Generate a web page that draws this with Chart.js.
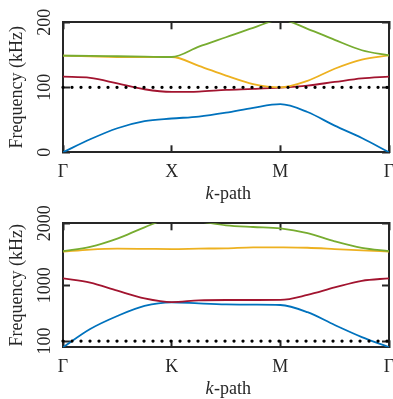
<!DOCTYPE html>
<html>
<head>
<meta charset="utf-8">
<script src="https://cdn.jsdelivr.net/npm/chart.js@4/dist/chart.umd.min.js"></script>
<style>
  html, body { margin: 0; padding: 0; background: #ffffff; }
  body { width: 393px; height: 399px; position: relative; overflow: hidden; }
  canvas { position: absolute; left: 0; }
</style>
</head>
<body>
<canvas id="top" width="393" height="215" style="top:0px"></canvas>
<canvas id="bottom" width="393" height="199" style="top:200px"></canvas>
<script>
// ---------- data ----------
const pathTop = ['Γ', 'X', 'M', 'Γ'];
const pathBottom = ['Γ', 'K', 'M', 'Γ'];
const yTicksTop = [0, 100, 200];
const yTicksBottom = [100, 1000, 2000];
const yMaxTop = 200;
const yMaxBottom = 2000;
const refLineValue = 100;

// position along the k-path (0 = first Γ, 1 = second point, ...)
const kPos = [0, 0.25, 0.5, 0.75, 1, 1.25, 1.5, 1.75, 2, 2.25, 2.5, 2.75, 3];

// top panel (kHz)
const topBlue   = [0, 20, 37, 48, 52, 55, 61, 68.5, 74, 62, 41, 22, 0];
const topRed    = [116.3, 114.5, 106, 97, 93, 93.5, 96, 97.5, 99.5, 102.7, 108.2, 113.6, 116.3];
const topOrange = [148.6, 147.6, 146.6, 146.3, 146.6, 133, 118, 105, 100, 110, 128.5, 142.5, 149];
const topGreen  = [148.6, 148.4, 147.8, 147.2, 146.6, 162.5, 177, 191.5, 204, 190, 173, 157, 149];

// bottom panel (kHz)
const botBlue   = [0, 295, 505, 668, 726, 708, 693, 687, 682, 566, 360, 165, 0];
const botRed    = [1113, 1045, 914, 790, 730, 757, 763, 763, 765, 845, 965, 1072, 1113];
const botOrange = [1542, 1576, 1590, 1588, 1585, 1592, 1597, 1613, 1612, 1606, 1585, 1562, 1545];
const botGreen  = [1550, 1620, 1753, 1935, 2075, 2030, 1967, 1940, 1919, 1841, 1709, 1603, 1550];

// ---------- styling ----------
const INK = '#262626';
const FONT = 'Liberation Serif';
const FSIZE = 18;
const COLORS = { blue: '#0072BD', red: '#A2142F', orange: '#EDB120', green: '#77AC30' };

function pts(vals) { return kPos.map((x, i) => ({ x: x, y: vals[i] })); }

const kpathTitle = {
  id: 'kpathTitle',
  afterDraw(chart) {
    const ctx = chart.ctx;
    const area = chart.chartArea;
    ctx.save();
    ctx.fillStyle = INK;
    ctx.textBaseline = 'middle';
    ctx.textAlign = 'left';
    const fi = 'italic ' + FSIZE + 'px "' + FONT + '"';
    const fn = FSIZE + 'px "' + FONT + '"';
    ctx.font = fi; const w1 = ctx.measureText('k').width;
    ctx.font = fn; const w2 = ctx.measureText('-path').width;
    const cx = (area.left + area.right) / 2 + 2;
    const x0 = cx - (w1 + w2) / 2;
    const y = area.bottom + 41.5;
    ctx.font = fi; ctx.fillText('k', x0, y);
    ctx.font = fn; ctx.fillText('-path', x0 + w1 + 0.5, y);
    ctx.restore();
  }
};

function makeChart(id, opt) {
  const tickFont = { family: FONT, size: FSIZE };
  const gridCommon = { drawOnChartArea: false, tickLength: -7, tickWidth: 2, tickColor: INK };
  const xTicks = s => { s.ticks = opt.labels.map((_, i) => ({ value: i })); };
  const yTicks = s => { s.ticks = opt.yTicks.map(v => ({ value: v })); };
  const lineDs = (vals, color, order) => ({
    data: pts(vals), borderColor: color, borderWidth: 1.8, pointRadius: 0,
    cubicInterpolationMode: 'monotone', fill: false, clip: 0, order: order
  });
  return new Chart(document.getElementById(id), {
    type: 'line',
    data: {
      datasets: [
        { data: [{ x: 0, y: refLineValue }, { x: opt.labels.length - 1, y: refLineValue }],
          borderColor: '#000000', borderWidth: 3.3, borderDash: [0.001, 9], borderCapStyle: 'round',
          pointRadius: 0, fill: false, clip: false, order: 0 },
        lineDs(opt.series[3], COLORS.green, 1),
        lineDs(opt.series[2], COLORS.orange, 2),
        lineDs(opt.series[1], COLORS.red, 3),
        lineDs(opt.series[0], COLORS.blue, 4)
      ]
    },
    options: {
      responsive: false,
      animation: false,
      devicePixelRatio: 1,
      layout: { padding: { top: opt.padTop, right: 4, bottom: 0, left: 0 } },
      plugins: { legend: { display: false }, tooltip: { enabled: false } },
      scales: {
        x: {
          type: 'linear', position: 'bottom', min: 0, max: opt.labels.length - 1,
          afterBuildTicks: xTicks,
          afterFit: s => { s.height = opt.xHeight; s.paddingLeft = 0; s.paddingRight = 0; },
          ticks: { autoSkip: false, maxRotation: 0, minRotation: 0, padding: 16.4, font: tickFont, color: INK,
                   callback: v => opt.labels[Math.round(v)] },
          grid: gridCommon,
          border: { color: INK, width: 2 }
        },
        x2: {
          type: 'linear', position: 'top', min: 0, max: opt.labels.length - 1,
          afterBuildTicks: xTicks,
          afterFit: s => { s.height = 0; s.paddingLeft = 0; s.paddingRight = 0; },
          ticks: { display: false },
          grid: gridCommon,
          border: { color: INK, width: 2 }
        },
        y: {
          type: 'linear', position: 'left', min: 0, max: opt.yMax,
          afterBuildTicks: yTicks,
          afterFit: s => { s.width = 63; s.paddingTop = 0; s.paddingBottom = 0; },
          ticks: { autoSkip: false, minRotation: 90, maxRotation: 90, crossAlign: 'center',
                   padding: opt.yTickPad, font: tickFont, color: INK, callback: v => String(v) },
          title: { display: true, text: 'Frequency (kHz)', color: INK, font: { family: FONT, size: FSIZE },
                   padding: { top: 6.4, bottom: 0 } },
          grid: gridCommon,
          border: { color: INK, width: 2 }
        },
        y2: {
          type: 'linear', position: 'right', min: 0, max: opt.yMax,
          afterBuildTicks: yTicks,
          afterFit: s => { s.width = 0; s.paddingTop = 0; s.paddingBottom = 0; },
          ticks: { display: false },
          grid: gridCommon,
          border: { color: INK, width: 2 }
        }
      }
    },
    plugins: [kpathTitle]
  });
}

makeChart('top', {
  labels: pathTop, yTicks: yTicksTop, yMax: yMaxTop,
  series: [topBlue, topRed, topOrange, topGreen],
  padTop: 22.3, xHeight: 215 - 152.3, yTickPad: 11
});
makeChart('bottom', {
  labels: pathBottom, yTicks: yTicksBottom, yMax: yMaxBottom,
  series: [botBlue, botRed, botOrange, botGreen],
  padTop: 23.3, xHeight: 199 - 147.3, yTickPad: 6.5
});
</script>
</body>
</html>
